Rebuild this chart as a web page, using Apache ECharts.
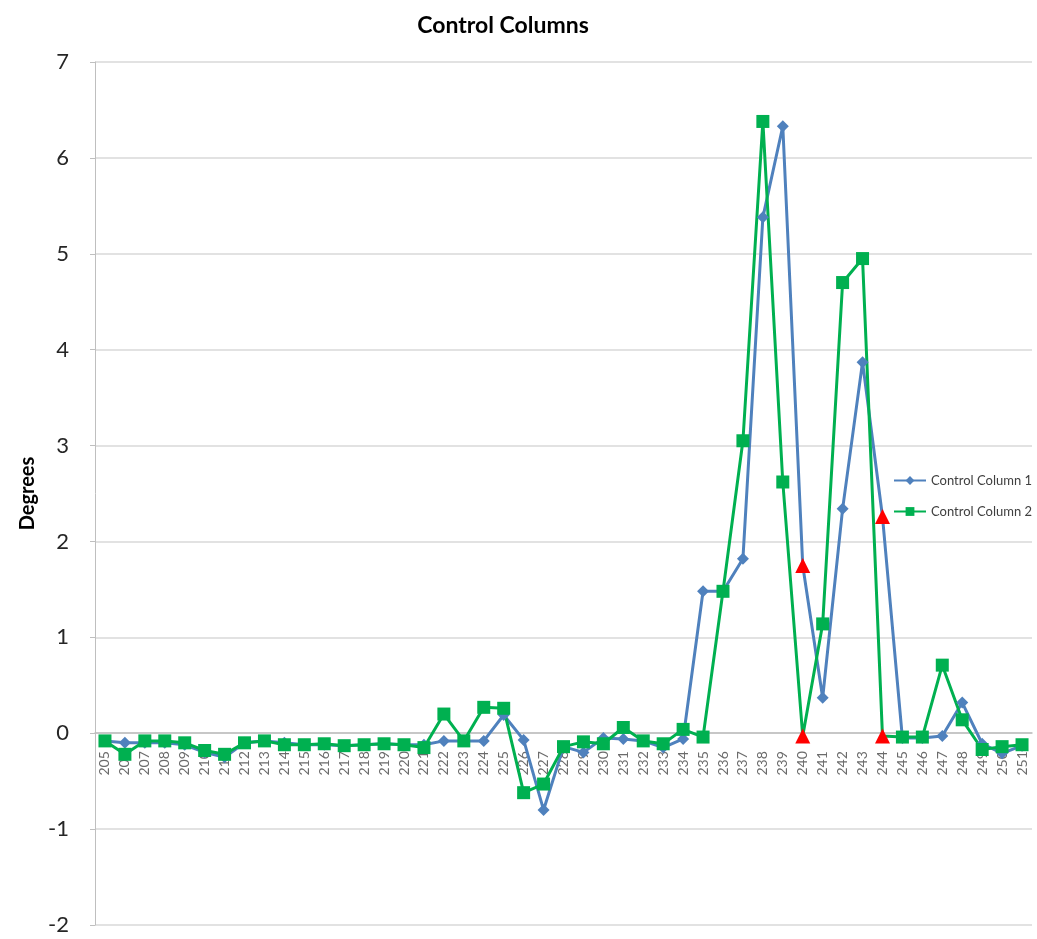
<!DOCTYPE html>
<html>
<head>
<meta charset="utf-8">
<script src="https://cdn.jsdelivr.net/npm/echarts@6/dist/echarts.min.js"></script>
<style>html,body{margin:0;padding:0;background:#fff}#chart{width:1037px;height:939px}</style>
</head>
<body>
<div id="chart"></div>
<script>
const categories = ['205','206','207','208','209','210','211','212','213','214','215','216','217','218','219','220','221','222','223','224','225','226','227','228','229','230','231','232','233','234','235','236','237','238','239','240','241','242','243','244','245','246','247','248','249','250','251'];
const column1 = [-0.08,-0.10,-0.10,-0.10,-0.12,-0.20,-0.25,-0.10,-0.08,-0.10,-0.12,-0.12,-0.13,-0.12,-0.11,-0.12,-0.12,-0.08,-0.08,-0.08,0.19,-0.07,-0.80,-0.14,-0.20,-0.05,-0.06,-0.08,-0.15,-0.06,1.48,1.48,1.82,5.38,6.33,1.75,0.37,2.34,3.87,2.26,-0.05,-0.05,-0.03,0.32,-0.11,-0.21,-0.13];
const column2 = [-0.08,-0.22,-0.08,-0.08,-0.10,-0.18,-0.22,-0.10,-0.08,-0.12,-0.12,-0.11,-0.13,-0.12,-0.11,-0.12,-0.15,0.20,-0.08,0.27,0.26,-0.62,-0.53,-0.14,-0.09,-0.11,0.06,-0.08,-0.11,0.04,-0.04,1.48,3.05,6.38,2.62,-0.03,1.14,4.70,4.95,-0.03,-0.04,-0.04,0.71,0.14,-0.17,-0.14,-0.12];
const flagged1 = ['240','244'];
const flagged2 = ['240','244'];
const seriesNames = ['Control Column 1','Control Column 2'];
const yTicks = {min: -2, max: 7, interval: 1};

function buildData(values, flagged) {
  return values.map((v, i) => flagged.indexOf(categories[i]) >= 0
    ? {value: v, symbol: 'triangle', symbolSize: 15, itemStyle: {color: '#FF0000'}}
    : v);
}

const W = 1037, H = 939;
const gridTop = 62, gridBottom = 14;
const plotH = H - gridTop - gridBottom;
const zeroFromBottom = plotH * (0 - yTicks.min) / (yTicks.max - yTicks.min);

const font = 'Lato, "Open Sans", "Liberation Sans", sans-serif';
const chart = echarts.init(document.getElementById('chart'), null, {renderer: 'canvas'});
chart.setOption({
  animation: false,
  backgroundColor: '#ffffff',
  title: {
    text: 'Control Columns',
    left: 498, top: 9, textAlign: 'center',
    textStyle: {fontFamily: font, fontSize: 23, fontWeight: 'bold', color: '#000'}
  },
  legend: {
    orient: 'vertical', left: 888, top: 469, itemGap: 18,
    itemWidth: 32, itemHeight: 11,
    data: seriesNames,
    textStyle: {fontFamily: font, fontSize: 13, color: '#404040'}
  },
  grid: {left: 95, right: 5, top: gridTop, bottom: gridBottom, containLabel: false},
  xAxis: {
    type: 'category', data: categories, boundaryGap: true,
    position: 'bottom', offset: -zeroFromBottom,
    axisLine: {onZero: false, lineStyle: {color: '#BFBFBF', width: 1.5}},
    axisTick: {show: false},
    axisLabel: {interval: 0, rotate: 90, fontFamily: font, fontSize: 14, color: '#6b6b6b', margin: 18},
    splitLine: {show: false}
  },
  yAxis: {
    type: 'value', min: yTicks.min, max: yTicks.max, interval: yTicks.interval,
    name: 'Degrees', nameLocation: 'middle', nameRotate: 90, nameGap: 56,
    nameTextStyle: {fontFamily: font, fontSize: 20, fontWeight: 'bold', color: '#000'},
    axisLine: {show: true, lineStyle: {color: '#BFBFBF'}},
    axisTick: {show: true, length: 5, lineStyle: {color: '#BFBFBF'}},
    axisLabel: {fontFamily: font, fontSize: 22, color: '#262626', margin: 26},
    splitLine: {show: true, lineStyle: {color: '#D9D9D9', width: 1.5}}
  },
  series: [
    {
      name: seriesNames[0], type: 'line', data: buildData(column1, flagged1),
      symbol: 'diamond', symbolSize: 12, showAllSymbol: true,
      lineStyle: {color: '#4F81BD', width: 3},
      itemStyle: {color: '#4F81BD'}
    },
    {
      name: seriesNames[1], type: 'line', data: buildData(column2, flagged2),
      symbol: 'rect', symbolSize: 13, showAllSymbol: true,
      lineStyle: {color: '#00B050', width: 3},
      itemStyle: {color: '#00B050'}
    }
  ]
});
</script>
</body>
</html>
